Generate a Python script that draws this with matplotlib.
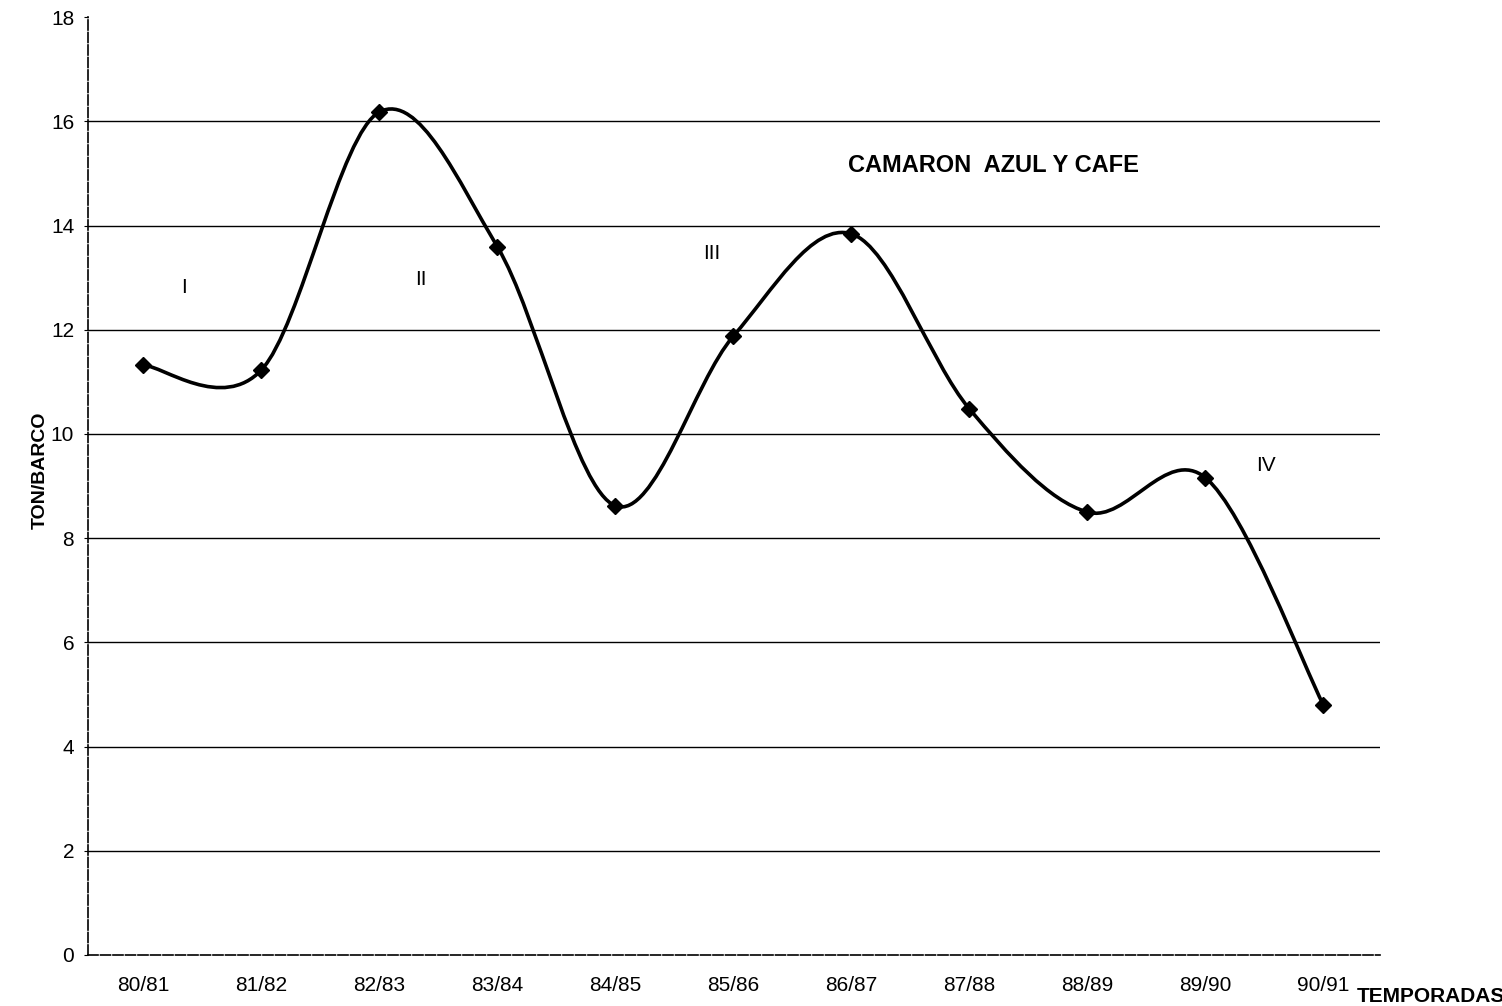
import numpy as np
import matplotlib
matplotlib.use("Agg")
import matplotlib.pyplot as plt
from matplotlib.path import Path
from matplotlib.patches import PathPatch

seasons = ["80/81", "81/82", "82/83", "83/84", "84/85", "85/86", "86/87",
           "87/88", "88/89", "89/90", "90/91"]
ton_barco = [11.32, 11.23, 16.18, 13.59, 8.62, 11.88, 13.84, 10.48, 8.50, 9.16, 4.80]
yticks = [0, 2, 4, 6, 8, 10, 12, 14, 16, 18]
title = "CAMARON  AZUL Y CAFE"
phases = ["I", "II", "III", "IV"]
phase_x = [0.34, 2.35, 4.82, 9.51]
phase_y = [12.82, 12.96, 13.47, 9.4]

plt.rcParams['font.family'] = ['Liberation Sans', 'DejaVu Sans']

fig = plt.figure(figsize=(15.02, 10.06), dpi=100)
ax = fig.add_axes([0.0586, 0.0507, 0.8602, 0.9323])

x = np.arange(len(seasons), dtype=float)
y = np.array(ton_barco, dtype=float)

# gridlines
for v in yticks[1:-1]:
    ax.axhline(v, color="black", lw=1.0, zorder=1)

# smoothed (Catmull-Rom style bezier) curve like Excel
pts = np.column_stack([x, y])
n = len(pts)
verts = [tuple(pts[0])]
codes = [Path.MOVETO]
for i in range(n - 1):
    p0 = pts[i - 1] if i > 0 else pts[i]
    p1 = pts[i]
    p2 = pts[i + 1]
    p3 = pts[i + 2] if i + 2 < n else pts[i + 1]
    c1 = p1 + (p2 - p0) / 6.0
    c2 = p2 - (p3 - p1) / 6.0
    verts += [tuple(c1), tuple(c2), tuple(p2)]
    codes += [Path.CURVE4] * 3
ax.add_patch(PathPatch(Path(verts, codes), facecolor="none", edgecolor="black",
                       lw=2.6, zorder=3))
ax.plot(x, y, linestyle="none", marker="D", markersize=8, color="black", zorder=4)

ax.set_xlim(-0.47, 10.48)
ax.set_ylim(0, 18)
ax.set_xticks(x)
ax.set_xticklabels(seasons, fontsize=15)
ax.set_yticks(yticks)
ax.set_yticklabels([str(v) for v in yticks], fontsize=15)
ax.tick_params(axis="x", length=0, pad=15)
ax.tick_params(axis="y", length=3, pad=7)

for s in ["top", "right"]:
    ax.spines[s].set_visible(False)
for s in ["left", "bottom"]:
    ax.spines[s].set_linestyle((0, (6, 1.5)))
    ax.spines[s].set_linewidth(1.2)

ax.text(7.2, 15.15, title, fontsize=17, fontweight="bold", ha="center", va="center")
for t, px, py in zip(phases, phase_x, phase_y):
    ax.text(px, py, t, fontsize=15, ha="center", va="center")

fig.text(0.027, 0.533, "TON/BARCO", fontsize=14, fontweight="bold",
         rotation=90, ha="center", va="center")
fig.text(0.903, 0.0, "TEMPORADAS", fontsize=15, fontweight="bold", ha="left", va="bottom")

fig.savefig("out.png", dpi=100)
